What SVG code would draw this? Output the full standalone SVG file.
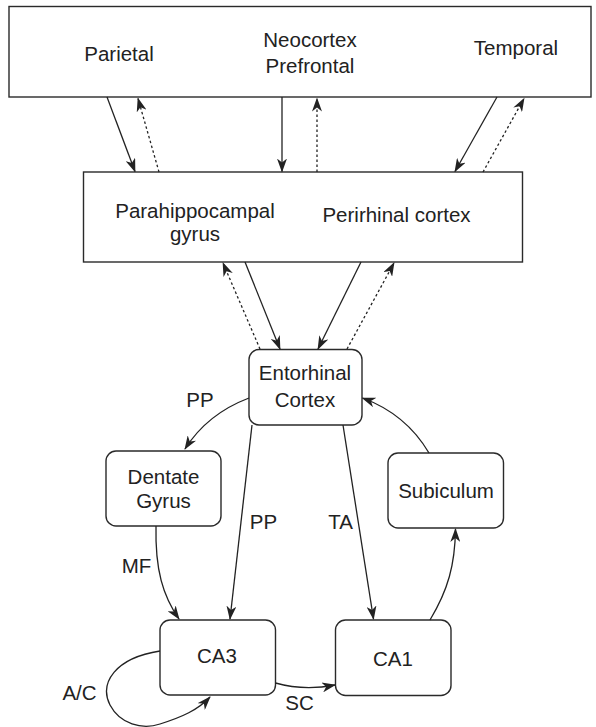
<svg xmlns="http://www.w3.org/2000/svg" width="596" height="727" viewBox="0 0 596 727">
  <style>
    .box { fill: #fff; stroke: #2a2a2a; stroke-width: 1.4; }
    .lbl { font-family: "Liberation Sans", Arial, sans-serif; font-size: 20.5px; fill: #222; text-anchor: middle; }
    .edge { fill: none; stroke: #222; stroke-width: 1.3; }
    .dot { stroke-dasharray: 2.5 2.5; }
  </style>
  <defs>
    <marker id="arrow" viewBox="0 0 14 10" refX="13" refY="5" markerWidth="14" markerHeight="10" markerUnits="userSpaceOnUse" orient="auto">
      <path d="M0,0 L14,5 L0,10 L4,5 z" fill="#222"/>
    </marker>
  </defs>

  <rect width="596" height="727" fill="#fff"/>

  <!-- cortical areas -->
  <g id="neocortex">
    <rect class="box" x="9" y="6.5" width="582" height="90.5"/>
    <text class="lbl" x="119" y="61">Parietal</text>
    <text class="lbl" x="310" y="47">Neocortex</text>
    <text class="lbl" x="310" y="73">Prefrontal</text>
    <text class="lbl" x="516" y="55">Temporal</text>
  </g>

  <g id="parahippocampal">
    <rect class="box" x="83.5" y="172" width="439" height="90"/>
    <text class="lbl" x="195" y="218">Parahippocampal</text>
    <text class="lbl" x="195" y="241">gyrus</text>
    <text class="lbl" x="396.5" y="222">Perirhinal cortex</text>
  </g>

  <!-- hippocampal formation -->
  <g id="entorhinal">
    <rect class="box" x="249" y="349.5" width="113" height="75.5" rx="10"/>
    <text class="lbl" x="305" y="380">Entorhinal</text>
    <text class="lbl" x="305" y="406.5">Cortex</text>
  </g>

  <g id="dentate">
    <rect class="box" x="106" y="451" width="115" height="75" rx="10"/>
    <text class="lbl" x="163.5" y="483.5">Dentate</text>
    <text class="lbl" x="163.5" y="508">Gyrus</text>
  </g>

  <g id="subiculum">
    <rect class="box" x="388" y="453" width="115.5" height="75" rx="10"/>
    <text class="lbl" x="446" y="497.5">Subiculum</text>
  </g>

  <g id="ca3">
    <rect class="box" x="160" y="620" width="115.5" height="75" rx="10"/>
    <text class="lbl" x="217" y="663">CA3</text>
  </g>

  <g id="ca1">
    <rect class="box" x="335.5" y="620" width="115.5" height="75.5" rx="10"/>
    <text class="lbl" x="393" y="666">CA1</text>
  </g>

  <!-- connectors -->
  <g id="connectors">
    <!-- neocortex <-> parahippocampal region -->
    <line class="edge" x1="107" y1="97" x2="135" y2="171.5" marker-end="url(#arrow)"/>
    <line class="edge dot" x1="159" y1="172" x2="138" y2="98.5" marker-end="url(#arrow)"/>
    <line class="edge" x1="282" y1="97" x2="282" y2="171.5" marker-end="url(#arrow)"/>
    <line class="edge dot" x1="317" y1="172" x2="317" y2="98.5" marker-end="url(#arrow)"/>
    <line class="edge" x1="497" y1="97" x2="455" y2="171.5" marker-end="url(#arrow)"/>
    <line class="edge dot" x1="483" y1="172" x2="524" y2="98.5" marker-end="url(#arrow)"/>

    <!-- parahippocampal region <-> entorhinal cortex -->
    <line class="edge dot" x1="260" y1="349" x2="223" y2="263" marker-end="url(#arrow)"/>
    <line class="edge" x1="245" y1="262" x2="280" y2="349" marker-end="url(#arrow)"/>
    <line class="edge" x1="361" y1="262" x2="318" y2="349" marker-end="url(#arrow)"/>
    <line class="edge dot" x1="347" y1="349" x2="394" y2="263" marker-end="url(#arrow)"/>

    <!-- trisynaptic loop -->
    <path class="edge" d="M249,398 Q207,414 185,449" marker-end="url(#arrow)"/>
    <text class="lbl" x="200" y="407">PP</text>

    <line class="edge" x1="252" y1="425" x2="230" y2="619" marker-end="url(#arrow)"/>
    <text class="lbl" x="263.5" y="529">PP</text>

    <line class="edge" x1="343" y1="425" x2="373.5" y2="619" marker-end="url(#arrow)"/>
    <text class="lbl" x="340.5" y="529">TA</text>

    <path class="edge" d="M156,526 C155,570 163,596 179,619" marker-end="url(#arrow)"/>
    <text class="lbl" x="136.5" y="573">MF</text>

    <path class="edge" d="M160,651 C115,658 99,683 110,705 C120,724 142,730 160,724 C182,717 198,710 210,697" marker-end="url(#arrow)"/>
    <text class="lbl" x="79.5" y="700">A/C</text>

    <path class="edge" d="M275.5,683 Q304,691 335,685" marker-end="url(#arrow)"/>
    <text class="lbl" x="299.5" y="710">SC</text>

    <path class="edge" d="M430,620 C448,590 455,565 455.5,529" marker-end="url(#arrow)"/>

    <path class="edge" d="M429,453 Q406,414 362.5,398" marker-end="url(#arrow)"/>
  </g>
</svg>
